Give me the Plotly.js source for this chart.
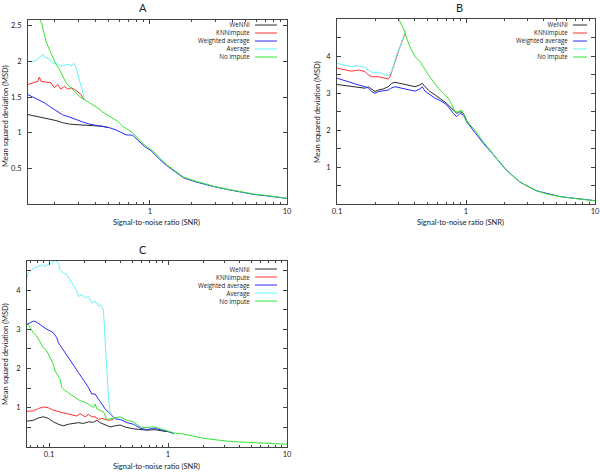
<!DOCTYPE html>
<html>
<head>
<meta charset="utf-8">
<script src="https://cdn.plot.ly/plotly-3.0.1.min.js"></script>
<style>
html, body { margin: 0; padding: 0; background: #fff; }
#plotArea { width: 600px; height: 472px; }
</style>
</head>
<body>
<div id="plotArea"></div>
<script>
// series names and colours, same order for every panel
var seriesNames = ["WeNNI", "KNNimpute", "Weighted average", "Average", "No impute"];
var seriesColors = ["#2a2a2a", "#ff3030", "#2a2aff", "#66f4f4", "#33e633"];

// ---- panel A (SNR, MSD) ----
var snrA_wenni = [0.1280, 0.1472, 0.1741, 0.2060, 0.2306, 0.2576, 0.3047, 0.3604, 0.4035, 0.4515, 0.5046];
var msdA_wenni = [1.255, 1.23, 1.21, 1.17, 1.14, 1.12, 1.11, 1.105, 1.10, 1.09, 1.07];
var snrA_knn = [0.1280, 0.1392, 0.1515, 0.1556, 0.1601, 0.1741, 0.1894, 0.2001, 0.2120, 0.2240, 0.2368, 0.2508, 0.2651, 0.2803, 0.2967, 0.3135, 0.3315];
var msdA_knn = [1.675, 1.70, 1.72, 1.78, 1.72, 1.71, 1.70, 1.63, 1.675, 1.61, 1.65, 1.61, 1.63, 1.61, 1.57, 1.535, 1.46];
var snrA_wavg = [0.1280, 0.1392, 0.1556, 0.1692, 0.1841, 0.2060, 0.2306, 0.2576, 0.2884, 0.3227, 0.3604, 0.4035, 0.4515, 0.5046, 0.5646, 0.6144, 0.6683, 0.7475, 0.8354, 0.9087, 1.029, 1.183, 1.324, 1.479, 1.750, 2.071, 2.449, 2.897, 3.630, 4.539, 5.675, 7.109, 8.890, 10];
var msdA_wavg = [1.535, 1.50, 1.46, 1.42, 1.37, 1.31, 1.25, 1.22, 1.18, 1.15, 1.12, 1.105, 1.09, 1.07, 1.04, 1.00, 0.97, 0.965, 0.88, 0.81, 0.74, 0.62, 0.54, 0.47, 0.37, 0.32, 0.28, 0.245, 0.205, 0.165, 0.135, 0.115, 0.092, 0.078];
var snrA_avg = [0.1280, 0.1430, 0.1515, 0.1601, 0.1656, 0.1692, 0.1841, 0.1949, 0.2120, 0.2240, 0.2368, 0.2508, 0.2651, 0.2803, 0.2884, 0.2967, 0.3047, 0.3135, 0.3227, 0.3315];
var msdA_avg = [2.0, 2.0, 2.03, 2.08, 2.10, 2.06, 2.03, 1.98, 1.96, 1.93, 1.95, 1.96, 1.94, 1.97, 1.91, 1.82, 1.75, 1.68, 1.58, 1.49];
var snrA_none = [0.1287, 0.1574, 0.1628, 0.1692, 0.1741, 0.1841, 0.1949, 0.2060, 0.2178, 0.2306, 0.2437, 0.2576, 0.2727, 0.2884, 0.3047, 0.3315, 0.3604, 0.3817, 0.4151, 0.4515, 0.4911, 0.5341, 0.5809, 0.6319, 0.6873, 0.7475, 0.8354, 0.9087, 0.9460, 1.029, 1.088, 1.183, 1.324, 1.479, 1.750, 2.071, 2.449, 2.897, 3.630, 4.539, 5.675, 7.109, 8.890, 10];
var msdA_none = [2.95, 2.60, 2.52, 2.38, 2.28, 2.17, 2.05, 1.96, 1.89, 1.79, 1.70, 1.65, 1.61, 1.56, 1.51, 1.46, 1.42, 1.39, 1.35, 1.29, 1.25, 1.21, 1.16, 1.09, 1.04, 1.00, 0.90, 0.83, 0.80, 0.76, 0.71, 0.64, 0.55, 0.48, 0.38, 0.33, 0.29, 0.25, 0.21, 0.17, 0.14, 0.12, 0.094, 0.08];

// ---- panel B ----
var snrB_wenni = [0.1, 0.1153, 0.1300, 0.1463, 0.1648, 0.1748, 0.1858, 0.1970, 0.2090, 0.2285, 0.2497, 0.2655, 0.2816, 0.3079, 0.3366, 0.3680, 0.4024, 0.4398, 0.4584, 0.4810, 0.5258, 0.5750, 0.6287, 0.7087, 0.7972, 0.8471, 0.8985, 0.9530, 1.013, 1.107];
var msdB_wenni = [3.23, 3.20, 3.17, 3.14, 3.13, 3.17, 3.11, 3.04, 3.08, 3.11, 3.17, 3.26, 3.29, 3.26, 3.23, 3.20, 3.17, 3.22, 3.26, 3.17, 3.04, 2.95, 2.86, 2.72, 2.54, 2.45, 2.50, 2.45, 2.25, 2.07];
var snrB_knn = [0.1, 0.1153, 0.1300, 0.1463, 0.1648, 0.1748, 0.1858, 0.2090, 0.2355, 0.2497, 0.2576, 0.2655, 0.2732, 0.2903, 0.3079, 0.3266, 0.3366];
var msdB_knn = [3.67, 3.62, 3.59, 3.62, 3.58, 3.49, 3.44, 3.44, 3.40, 3.38, 3.44, 3.58, 3.76, 4.03, 4.25, 4.48, 4.61];
var snrB_wavg = [0.1, 0.1153, 0.1300, 0.1463, 0.1648, 0.1748, 0.1858, 0.1970, 0.2090, 0.2221, 0.2355, 0.2497, 0.2655, 0.2816, 0.3079, 0.3366, 0.3680, 0.4024, 0.4398, 0.4584, 0.4810, 0.5258, 0.5750, 0.6287, 0.7087, 0.7972, 0.8471, 0.8985, 0.9530, 1.013, 1.107, 1.210, 1.362, 1.535, 1.730, 2.068, 2.622, 3.532, 5.355, 10];
var msdB_wavg = [3.40, 3.33, 3.26, 3.22, 3.17, 3.13, 3.04, 2.99, 3.04, 3.05, 3.05, 3.08, 3.14, 3.17, 3.14, 3.11, 3.08, 3.05, 3.11, 3.17, 3.05, 2.95, 2.86, 2.80, 2.68, 2.45, 2.36, 2.45, 2.41, 2.22, 2.05, 1.86, 1.64, 1.44, 1.22, 0.91, 0.59, 0.355, 0.20, 0.09];
var snrB_avg = [0.1, 0.1153, 0.1300, 0.1463, 0.1648, 0.1748, 0.1858, 0.2090, 0.2355, 0.2497, 0.2622, 0.2732, 0.2903, 0.3079, 0.3266, 0.3407];
var msdB_avg = [3.80, 3.76, 3.71, 3.74, 3.69, 3.62, 3.56, 3.56, 3.49, 3.47, 3.53, 3.76, 4.03, 4.25, 4.52, 4.70];
var snrB_none = [0.2716, 0.2987, 0.3266, 0.3469, 0.3680, 0.4024, 0.4398, 0.4667, 0.5102, 0.5578, 0.6099, 0.6668, 0.7292, 0.7747, 0.8218, 0.8715, 0.9261, 0.9823, 1.042, 1.139, 1.245, 1.362, 1.535, 1.730, 1.891, 2.068, 2.326, 2.622, 2.954, 3.532, 4.223, 5.355, 6.789, 8.626, 10];
var msdB_none = [5.3, 5.02, 4.75, 4.48, 4.25, 3.98, 3.85, 3.71, 3.49, 3.31, 3.13, 2.99, 2.86, 2.69, 2.49, 2.49, 2.54, 2.32, 2.18, 2.05, 1.86, 1.68, 1.46, 1.24, 1.05, 0.92, 0.74, 0.60, 0.49, 0.36, 0.27, 0.20, 0.15, 0.11, 0.09];

// ---- panel C ----
var snrC_wenni = [0.0653, 0.07376, 0.08126, 0.08954, 0.09865, 0.1087, 0.1198, 0.1320, 0.1455, 0.1602, 0.1765, 0.1945, 0.2143, 0.2361, 0.2522, 0.2689, 0.2963, 0.3266, 0.3597, 0.3964, 0.4368, 0.4973, 0.5652, 0.6653, 0.7817, 0.9808];
var msdC_wenni = [0.66, 0.68, 0.74, 0.77, 0.73, 0.64, 0.58, 0.54, 0.58, 0.60, 0.62, 0.60, 0.64, 0.63, 0.68, 0.62, 0.56, 0.51, 0.54, 0.56, 0.51, 0.47, 0.45, 0.43, 0.44, 0.39];
var snrC_knn = [0.0653, 0.07376, 0.08126, 0.08954, 0.09865, 0.1087, 0.1238, 0.1410, 0.1553, 0.1712, 0.1825, 0.2010, 0.2143, 0.2289, 0.2441, 0.2603, 0.2780, 0.2963, 0.3160, 0.3480];
var msdC_knn = [0.91, 0.92, 0.98, 1.02, 1.00, 0.94, 0.89, 0.85, 0.81, 0.79, 0.85, 0.77, 0.83, 0.77, 0.77, 0.70, 0.73, 0.71, 0.68, 0.70];
var snrC_wavg = [0.0653, 0.06918, 0.07376, 0.07875, 0.08397, 0.08954, 0.09563, 0.1020, 0.1087, 0.1161, 0.1198, 0.1279, 0.1364, 0.1455, 0.1553, 0.1656, 0.1765, 0.1886, 0.2010, 0.2143, 0.2289, 0.2441, 0.2603, 0.2780, 0.2963, 0.3160, 0.3374, 0.3597, 0.3964, 0.4514, 0.5130, 0.5842, 0.6653, 0.7563, 0.8613, 0.9808, 1.115];
var msdC_wavg = [3.12, 3.17, 3.21, 3.18, 3.12, 3.04, 3.00, 2.96, 2.91, 2.79, 2.66, 2.53, 2.41, 2.28, 2.15, 2.03, 1.90, 1.77, 1.65, 1.52, 1.35, 1.35, 1.22, 1.10, 0.97, 0.89, 0.80, 0.72, 0.70, 0.62, 0.58, 0.48, 0.44, 0.48, 0.44, 0.40, 0.34];
var snrC_avg = [0.0653, 0.06693, 0.07152, 0.07623, 0.08126, 0.08681, 0.09254, 0.09865, 0.1054, 0.1123, 0.1198, 0.1238, 0.1320, 0.1410, 0.1503, 0.1602, 0.1712, 0.1765, 0.1886, 0.2010, 0.2143, 0.2289, 0.2441, 0.2603, 0.2689, 0.2780, 0.2868, 0.2963, 0.3062, 0.3160, 0.3266];
var msdC_avg = [4.31, 4.43, 4.52, 4.56, 4.58, 4.64, 4.60, 4.66, 4.69, 4.76, 4.69, 4.52, 4.43, 4.39, 4.26, 4.10, 3.97, 3.84, 3.88, 3.80, 3.84, 3.67, 3.72, 3.59, 3.63, 3.55, 3.50, 2.70, 1.86, 1.27, 0.84];
var snrC_none = [0.0653, 0.06918, 0.07376, 0.07875, 0.08397, 0.08954, 0.09563, 0.1020, 0.1087, 0.1123, 0.1161, 0.1238, 0.1279, 0.1364, 0.1503, 0.1656, 0.1825, 0.2010, 0.2215, 0.2361, 0.2441, 0.2522, 0.2689, 0.2868, 0.3062, 0.3266, 0.3480, 0.3964, 0.4514, 0.5130, 0.5842, 0.6653, 0.7563, 0.8613, 0.9808, 1.115, 1.353, 1.643, 1.994, 2.587, 3.349, 4.630, 6.389, 9.417, 10];
var msdC_none = [3.17, 3.04, 2.91, 2.83, 2.66, 2.53, 2.45, 2.28, 2.11, 1.94, 1.86, 1.73, 1.52, 1.44, 1.35, 1.27, 1.18, 1.14, 1.06, 1.01, 1.10, 0.97, 0.93, 0.90, 0.70, 0.72, 0.74, 0.77, 0.68, 0.64, 0.51, 0.49, 0.52, 0.47, 0.42, 0.36, 0.33, 0.27, 0.22, 0.18, 0.14, 0.12, 0.10, 0.08, 0.07];

// tick labels
var xTickValsA = [1, 10], xTickTextA = ["1", "10"];
var xTickVals = [0.1, 1, 10], xTickText = ["0.1", "1", "10"];
var yTickValsA = [0.5, 1, 1.5, 2, 2.5], yTickTextA = ["0.5", "1", "1.5", "2", "2.5"];
var yTickVals = [1, 2, 3, 4], yTickText = ["1", "2", "3", "4"];
var yMinorHalf = [0.5, 1.5, 2.5, 3.5, 4.5];
var xMinorLog = [0.06, 0.07, 0.08, 0.09, 0.2, 0.3, 0.4, 0.5, 0.6, 0.7, 0.8, 0.9, 2, 3, 4, 5, 6, 7, 8, 9];

var W = 600, H = 472;
function px(v) { return v / W; }
function py(v) { return 1 - v / H; }

var panels = [
  {xa: "x", ya: "y", snr: [snrA_wenni, snrA_knn, snrA_wavg, snrA_avg, snrA_none], msd: [msdA_wenni, msdA_knn, msdA_wavg, msdA_avg, msdA_none]},
  {xa: "x2", ya: "y2", snr: [snrB_wenni, snrB_knn, snrB_wavg, snrB_avg, snrB_none], msd: [msdB_wenni, msdB_knn, msdB_wavg, msdB_avg, msdB_none]},
  {xa: "x3", ya: "y3", snr: [snrC_wenni, snrC_knn, snrC_wavg, snrC_avg, snrC_none], msd: [msdC_wenni, msdC_knn, msdC_wavg, msdC_avg, msdC_none]}
];

var data = [];
panels.forEach(function (p) {
  for (var i = 0; i < seriesNames.length; i++) {
    data.push({
      x: p.snr[i], y: p.msd[i], type: "scatter", mode: "lines",
      name: seriesNames[i], xaxis: p.xa, yaxis: p.ya,
      line: {color: seriesColors[i], width: 1},
      hoverinfo: "skip"
    });
  }
});

var axisCol = "#444";
function xAxis(x0, x1, lo, hi, vals, text, anchor) {
  return {
    type: "log", domain: [px(x0), px(x1)], range: [Math.log10(lo), Math.log10(hi)], anchor: anchor,
    tickmode: "array", tickvals: vals, ticktext: text,
    ticks: "inside", ticklen: 4, tickcolor: axisCol, tickwidth: 1,
    minor: {ticks: "inside", ticklen: 2, tickcolor: axisCol, tickmode: "array", tickvals: xMinorLog, showgrid: false},
    showline: true, linecolor: axisCol, linewidth: 1, mirror: "ticks",
    showgrid: false, zeroline: false, fixedrange: true, tickfont: {size: 7.5}
  };
}
function yAxis(y0, y1, top, vals, text, minorVals, anchor) {
  var ax = {
    domain: [py(y1), py(y0)], range: [0, top], anchor: anchor,
    tickmode: "array", tickvals: vals, ticktext: text,
    ticks: "inside", ticklen: 4, tickcolor: axisCol, tickwidth: 1,
    showline: true, linecolor: axisCol, linewidth: 1, mirror: "ticks",
    showgrid: false, zeroline: false, fixedrange: true, tickfont: {size: 7.5},
    ticklabelstandoff: 4
  };
  if (minorVals) ax.minor = {ticks: "inside", ticklen: 4, tickcolor: axisCol, tickmode: "array", tickvals: minorVals, showgrid: false};
  return ax;
}

var annotations = [];
var shapes = [];
function label(text, x, y, size, angle, xanchor) {
  annotations.push({
    text: text, x: px(x), y: py(y), xref: "paper", yref: "paper", showarrow: false,
    xanchor: xanchor || "center", yanchor: "middle", textangle: angle || 0,
    font: {size: size}
  });
}
// legend: one right-aligned block of names plus a short line sample per row
function legendBox(textRight, lineX0, lineX1, rows) {
  var mid = (rows[0] + rows[rows.length - 1]) / 2;
  annotations.push({
    text: seriesNames.join("<br>"), x: px(textRight), y: py(mid),
    xref: "paper", yref: "paper", showarrow: false, xanchor: "right", yanchor: "middle",
    align: "right", borderpad: 0, font: {family: "'Open Sans', Lato, sans-serif", size: 6.2}
  });
  for (var i = 0; i < seriesNames.length; i++) {
    shapes.push({type: "line", xref: "paper", yref: "paper",
      x0: px(lineX0), x1: px(lineX1), y0: py(rows[i]), y1: py(rows[i]),
      line: {color: seriesColors[i], width: 1}});
  }
}

label("A", 143, 8, 11);
label("B", 459, 8, 11);
label("C", 143, 249, 11);
label("Signal-to-noise ratio (SNR)", 156, 223, 7.5);
label("Signal-to-noise ratio (SNR)", 460, 223, 7.5);
label("Signal-to-noise ratio (SNR)", 156, 466, 7.5);
label("Mean squared deviation (MSD)", 5, 116, 7.5, -90);
label("Mean squared deviation (MSD)", 317, 112, 7.5, -90);
label("Mean squared deviation (MSD)", 5, 354, 7.5, -90);

legendBox(251, 255, 277, [25, 33, 41, 49, 57]);
legendBox(569, 573, 587, [25, 33, 41, 49, 57]);
legendBox(251, 255, 277, [269, 277, 285, 293, 301]);

var layout = {
  width: W, height: H,
  margin: {l: 0, r: 0, t: 0, b: 0},
  paper_bgcolor: "#fff", plot_bgcolor: "#fff",
  showlegend: false,
  font: {family: "Lato, 'Liberation Sans', sans-serif", size: 7.5, color: "#222"},
  xaxis: xAxis(28, 287, 0.1287, 10, xTickValsA, xTickTextA, "y"),
  yaxis: yAxis(20, 204, 2.58, yTickValsA, yTickTextA, null, "x"),
  xaxis2: xAxis(337, 595, 0.1, 10, xTickVals, xTickText, "y2"),
  yaxis2: yAxis(19, 204, 5.0, yTickVals, yTickText, yMinorHalf, "x2"),
  xaxis3: xAxis(27, 287, 0.0653, 10, xTickVals, xTickText, "y3"),
  yaxis3: yAxis(261, 447, 4.74, yTickVals, yTickText, yMinorHalf, "x3"),
  annotations: annotations,
  shapes: shapes
};

Plotly.newPlot("plotArea", data, layout, {staticPlot: true});
</script>
</body>
</html>
